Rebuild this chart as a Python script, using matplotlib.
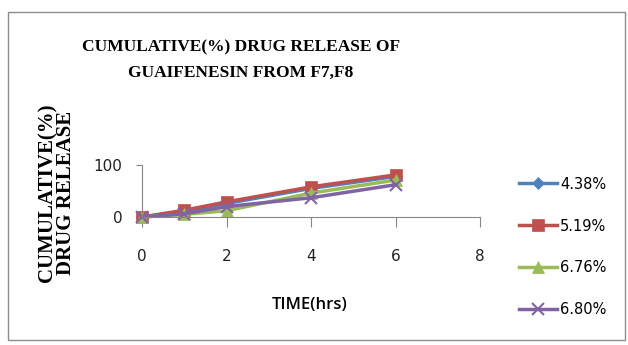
import matplotlib
matplotlib.use("Agg")
import matplotlib.pyplot as plt
from matplotlib.patches import Rectangle

time_hrs = [0, 1, 2, 4, 6]
series_names = ["4.38%", "5.19%", "6.76%", "6.80%"]
s_438 = [0, 11, 26, 55, 78]
s_519 = [0, 13, 29, 58, 81]
s_676 = [0, 5, 12, 46, 71]
s_680 = [0, 6, 20, 37, 62]
x_ticks = [0, 2, 4, 6, 8]
y_ticks = [0, 100]

colors = ["#4F81BD", "#C0504D", "#9BBB59", "#8064A2"]
markers = ["D", "s", "^", "x"]
msizes = [6, 9, 8, 8]

fig = plt.figure(figsize=(6.28, 3.45), dpi=100)
fig.patch.set_facecolor("white")
fig.add_artist(Rectangle((8/628, 1 - 340/345), 617/628, 328/345, transform=fig.transFigure,
                         fill=False, edgecolor="#8c8c8c", linewidth=1.0))

ax = fig.add_axes([142/628, 1 - 217/345, 338/628, 52/345])
for vals, name, c, m, ms in zip([s_438, s_519, s_676, s_680], series_names, colors, markers, msizes):
    ax.plot(time_hrs, vals, color=c, marker=m, markersize=ms, linewidth=2.5,
            markeredgewidth=1.5 if m == "x" else 0.5, label=name, clip_on=False)

ax.set_xlim(0, 8)
ax.set_ylim(0, 100)
ax.set_xticks(x_ticks)
ax.set_yticks(y_ticks)
for s in ["top", "right"]:
    ax.spines[s].set_visible(False)
for s in ["left", "bottom"]:
    ax.spines[s].set_color("#868686")
ax.tick_params(axis="x", direction="out", length=7, color="#868686", pad=16,
               labelsize=11)
ax.tick_params(axis="y", direction="out", length=4, color="#868686", pad=10,
               labelsize=11)
for lab in ax.get_xticklabels() + ax.get_yticklabels():
    lab.set_fontfamily("DejaVu Sans")
    lab.set_color("#222222")

fig.text(241/628, 1 - 60/345, "CUMULATIVE(%) DRUG RELEASE OF\nGUAIFENESIN FROM F7,F8",
         ha="center", va="center", fontsize=12.5, fontweight="bold",
         family="Liberation Serif", linespacing=1.8)
fig.text(57/628, 1 - 193/345, "CUMULATIVE(%)\nDRUG RELEASE",
         ha="center", va="center", rotation=90, fontsize=15, fontweight="bold",
         family="Liberation Serif", linespacing=0.92)
fig.text(310/628, 1 - 305/345, "TIME(hrs)", ha="center", va="center",
         fontsize=12, family="Open Sans", fontweight="semibold")

leg = fig.legend(loc="center left", bbox_to_anchor=(506/628, 1 - 247/345),
                 frameon=False, handlelength=2.6, labelspacing=1.85,
                 prop={"family": "DejaVu Sans", "size": 10.5}, handletextpad=0.2)

fig.savefig("out.png", dpi=100)
